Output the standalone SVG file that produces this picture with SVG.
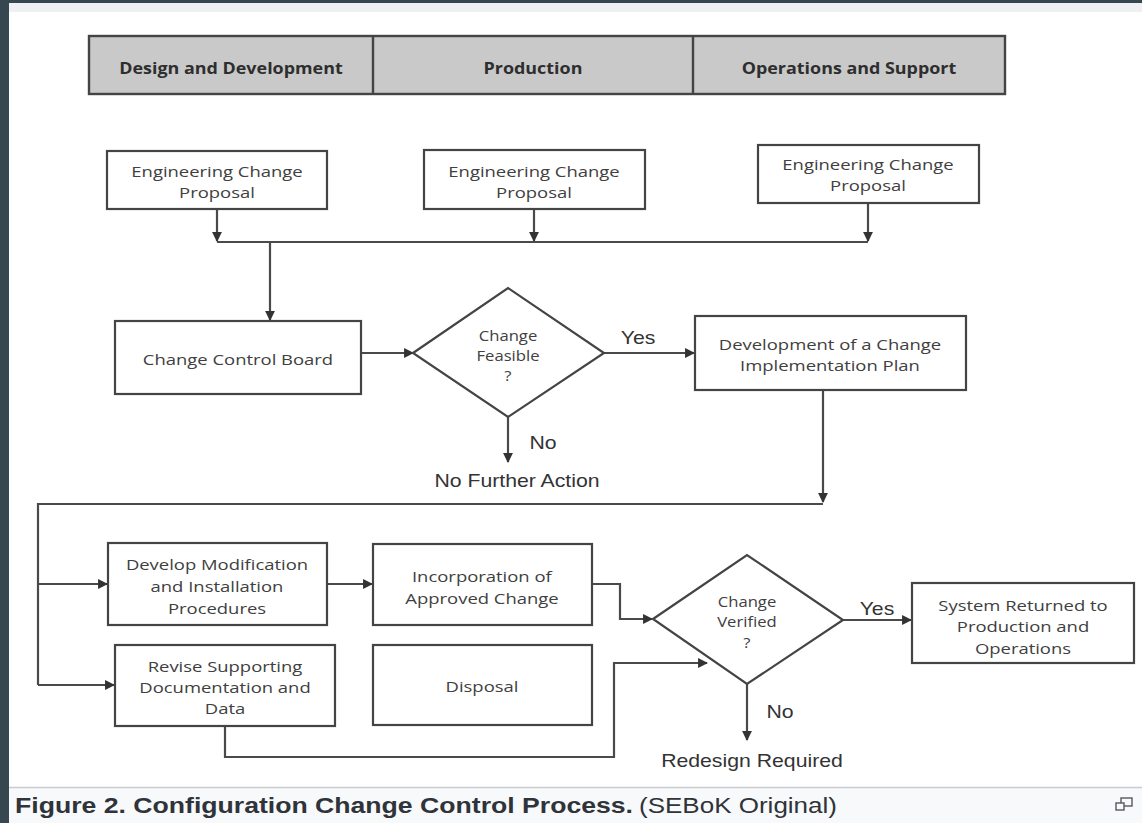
<svg xmlns="http://www.w3.org/2000/svg" width="1142" height="823" viewBox="0 0 1142 823">
<defs>
<style>
.box{fill:#fff;stroke:#444;stroke-width:2.2}
.hdr{fill:#c9c9c9;stroke:#444;stroke-width:2.4}
.dia{fill:#fff;stroke:#444;stroke-width:2.2}
.ln{fill:none;stroke:#4a4a4a;stroke-width:2.2}
text{transform-box:fill-box;transform-origin:center}
.t{font-family:"Open Sans","Liberation Sans",sans-serif;font-size:15px;fill:#404040;text-anchor:middle;transform:scaleX(1.23)}
.th{font-family:"Open Sans","Liberation Sans",sans-serif;font-size:16px;font-weight:bold;fill:#2e2e2e;text-anchor:middle;transform:scaleX(1.12)}
.ts{font-family:"Open Sans","Liberation Sans",sans-serif;font-size:14px;fill:#404040;text-anchor:middle;transform:scaleX(1.19)}
.ta{font-family:"Liberation Sans",Arial,sans-serif;font-size:18px;fill:#333;text-anchor:middle;transform:scaleX(1.18)}
.cap{font-family:"Liberation Sans",Arial,sans-serif;font-size:22px;fill:#2f333a}
</style>
<marker id="ah" viewBox="0 0 10 10" refX="9" refY="5" markerWidth="4.5" markerHeight="4.5" orient="auto" markerUnits="strokeWidth">
<path d="M0,0 L10,5 L0,10 z" fill="#333"/>
</marker>
</defs>
<rect x="0" y="0" width="1142" height="823" fill="#37474f"/>
<rect x="9" y="3" width="1133" height="820" fill="#fff"/>
<rect x="9" y="3" width="1133" height="9" fill="#eef0f3"/>
<rect x="9" y="788" width="1133" height="35" fill="#f8f9fa"/>
<line x1="9" y1="787.5" x2="1142" y2="787.5" stroke="#c8ccd1" stroke-width="1.5"/>

<g id="phases">
<rect class="hdr" x="89" y="36" width="916" height="58"/>
<line x1="373" y1="36" x2="373" y2="94" stroke="#444" stroke-width="2.4"/>
<line x1="693" y1="36" x2="693" y2="94" stroke="#444" stroke-width="2.4"/>
<text class="th" x="231" y="74">Design and Development</text>
<text class="th" x="533" y="74">Production</text>
<text class="th" x="849" y="74">Operations and Support</text>
</g>

<g id="connectors">
<line class="ln" x1="217" y1="209" x2="217" y2="241" marker-end="url(#ah)"/>
<line class="ln" x1="534" y1="209" x2="534" y2="241" marker-end="url(#ah)"/>
<line class="ln" x1="868" y1="203" x2="868" y2="241" marker-end="url(#ah)"/>
<line class="ln" x1="217" y1="242" x2="868" y2="242"/>
<line class="ln" x1="270" y1="242" x2="270" y2="320" marker-end="url(#ah)"/>
<line class="ln" x1="361" y1="353" x2="413" y2="353" marker-end="url(#ah)"/>
<line class="ln" x1="604" y1="353" x2="694" y2="353" marker-end="url(#ah)"/>
<line class="ln" x1="508" y1="417" x2="508" y2="462" marker-end="url(#ah)"/>
<line class="ln" x1="823" y1="390" x2="823" y2="502" marker-end="url(#ah)"/>
<polyline class="ln" points="823,504 38,504 38,685"/>
<line class="ln" x1="38" y1="584" x2="107" y2="584" marker-end="url(#ah)"/>
<line class="ln" x1="38" y1="685" x2="114" y2="685" marker-end="url(#ah)"/>
<line class="ln" x1="327" y1="584" x2="372" y2="584" marker-end="url(#ah)"/>
<polyline class="ln" points="592,584 620,584 620,619 652,619" marker-end="url(#ah)"/>
<polyline class="ln" points="225,726 225,757 614,757 614,663 707,663" marker-end="url(#ah)"/>
<line class="ln" x1="843" y1="620" x2="911" y2="620" marker-end="url(#ah)"/>
<line class="ln" x1="747" y1="684" x2="747" y2="740" marker-end="url(#ah)"/>
<text class="ta" x="638" y="344">Yes</text>
<text class="ta" x="543" y="449">No</text>
<text class="ta" x="517" y="487">No Further Action</text>
<text class="ta" x="877" y="615">Yes</text>
<text class="ta" x="780" y="718">No</text>
<text class="ta" x="752" y="767">Redesign Required</text>
</g>

<g id="ecp1">
<rect class="box" x="107" y="151" width="220" height="58"/>
<text class="t" x="217" y="177">Engineering Change</text>
<text class="t" x="217" y="198">Proposal</text>
</g>
<g id="ecp2">
<rect class="box" x="424" y="150" width="221" height="59"/>
<text class="t" x="534" y="177">Engineering Change</text>
<text class="t" x="534" y="198">Proposal</text>
</g>
<g id="ecp3">
<rect class="box" x="758" y="145" width="221" height="58"/>
<text class="t" x="868" y="170">Engineering Change</text>
<text class="t" x="868" y="191">Proposal</text>
</g>
<g id="ccb">
<rect class="box" x="115" y="321" width="246" height="73"/>
<text class="t" x="238" y="365">Change Control Board</text>
</g>
<g id="feasible">
<polygon class="dia" points="413,353 508,288 604,353 508,417"/>
<text class="ts" x="508" y="341">Change</text>
<text class="ts" x="508" y="361">Feasible</text>
<text class="ts" x="508" y="381">?</text>
</g>
<g id="plan">
<rect class="box" x="695" y="316" width="271" height="74"/>
<text class="t" x="830" y="350">Development of a Change</text>
<text class="t" x="830" y="371">Implementation Plan</text>
</g>
<g id="devmod">
<rect class="box" x="108" y="543" width="219" height="82"/>
<text class="t" x="217" y="570">Develop Modification</text>
<text class="t" x="217" y="592">and Installation</text>
<text class="t" x="217" y="614">Procedures</text>
</g>
<g id="revise">
<rect class="box" x="115" y="645" width="220" height="81"/>
<text class="t" x="225" y="672">Revise Supporting</text>
<text class="t" x="225" y="693">Documentation and</text>
<text class="t" x="225" y="714">Data</text>
</g>
<g id="incorp">
<rect class="box" x="373" y="544" width="219" height="81"/>
<text class="t" x="482" y="582">Incorporation of</text>
<text class="t" x="482" y="604">Approved Change</text>
</g>
<g id="disposal">
<rect class="box" x="373" y="645" width="219" height="80"/>
<text class="t" x="482" y="692">Disposal</text>
</g>
<g id="verified">
<polygon class="dia" points="653,619 747,555 843,620 747,684"/>
<text class="ts" x="747" y="607">Change</text>
<text class="ts" x="747" y="627">Verified</text>
<text class="ts" x="747" y="648">?</text>
</g>
<g id="returned">
<rect class="box" x="912" y="583" width="222" height="80"/>
<text class="t" x="1023" y="611">System Returned to</text>
<text class="t" x="1023" y="632">Production and</text>
<text class="t" x="1023" y="654">Operations</text>
</g>

<g id="caption">
<text class="cap" x="15" y="813" font-weight="bold" textLength="618" lengthAdjust="spacingAndGlyphs" style="transform:none">Figure 2. Configuration Change Control Process.</text>
<text class="cap" x="639" y="813" textLength="198" lengthAdjust="spacingAndGlyphs" style="transform:none">(SEBoK Original)</text>
<g fill="none" stroke="#54595d" stroke-width="1.4">
<rect x="1121" y="798" width="11" height="8"/>
<rect x="1116" y="803" width="8" height="7" fill="#f8f9fa"/>
</g>
</g>
</svg>
